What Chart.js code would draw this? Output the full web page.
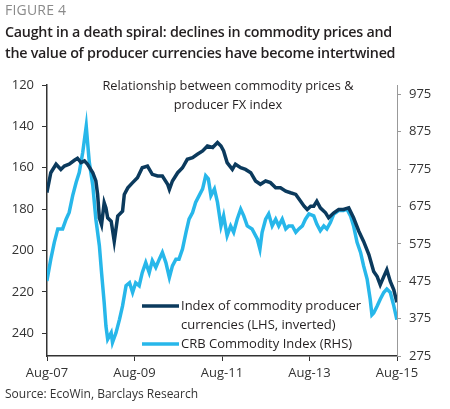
<!DOCTYPE html>
<html>
<head>
<meta charset="utf-8">
<script src="https://cdn.jsdelivr.net/npm/chart.js@4.4.0/dist/chart.umd.min.js"></script>
<style>
  body { margin: 0; background: #fff; font-family: "Open Sans", "Noto Sans", sans-serif; }
  #wrap { position: relative; width: 450px; height: 409px; overflow: hidden; }
  #chart { position: absolute; left: 0; top: 0; }
  .txt { position: absolute; white-space: nowrap; color: #231f20; }
  #fig { left: 5px; top: 0px; font-size: 14px; color: #8a8a8a; letter-spacing: 0.2px; }
  #title { left: 5px; top: 22px; font-size: 14.3px; font-weight: 600; line-height: 20.5px; letter-spacing: -0.25px; }
  #inner { left: 98px; top: 76px; width: 260px; text-align: center; font-size: 12.8px; line-height: 18.5px; }
  #source { left: 5px; top: 385px; font-size: 12px; color: #333; }
</style>
</head>
<body>
<div id="wrap">
  <canvas id="chart" width="450" height="409"></canvas>
  <div class="txt" id="fig">FIGURE 4</div>
  <div class="txt" id="title">Caught in a death spiral: declines in commodity prices and<br>the value of producer currencies have become intertwined</div>
  <div class="txt" id="inner">Relationship between commodity prices &amp;<br>producer FX index</div>
  <div class="txt" id="source">Source: EcoWin, Barclays Research</div>
</div>
<script>
// dates as decimal years
const fxDates = [2007.58, 2007.67, 2007.79, 2007.90, 2007.98, 2008.09, 2008.21, 2008.28, 2008.36, 2008.44,
  2008.51, 2008.63, 2008.70, 2008.74, 2008.78, 2008.83, 2008.89, 2008.93, 2008.97, 2009.05,
  2009.08, 2009.12, 2009.20, 2009.31, 2009.35, 2009.43, 2009.54, 2009.65, 2009.76, 2009.88,
  2009.99, 2010.11, 2010.22, 2010.34, 2010.38, 2010.45, 2010.57, 2010.68, 2010.79, 2010.91,
  2011.02, 2011.14, 2011.25, 2011.37, 2011.48, 2011.56, 2011.62, 2011.70, 2011.82, 2011.89,
  2012.01, 2012.12, 2012.24, 2012.35, 2012.46, 2012.58, 2012.69, 2012.81, 2012.92, 2013.04,
  2013.15, 2013.27, 2013.38, 2013.46, 2013.53, 2013.61, 2013.68, 2013.75, 2013.83, 2013.95,
  2014.02, 2014.14, 2014.25, 2014.36, 2014.48, 2014.59, 2014.71, 2014.82, 2014.94, 2015.05,
  2015.13, 2015.20, 2015.28, 2015.35, 2015.43, 2015.51, 2015.58];
const fxValues = [172, 162.4, 158.3, 160.8, 159.2, 158.3, 156.4, 155.4, 157.5, 156.7,
  158.3, 162.4, 166.4, 172.9, 184.2, 187.5, 176.9, 179.4, 184.2, 185.9,
  190, 195.6, 183.4, 181, 172.9, 169.7, 167.2, 164.8, 160, 159.2,
  163.2, 164, 164, 168, 170.5, 166.4, 162.4, 160, 155.9, 155.1,
  153.5, 151.9, 149.5, 150.2, 147.8, 149.5, 151.9, 157.5, 160.8, 158.3,
  160, 160.8, 162.4, 166.4, 168, 166.4, 167.2, 169.7, 169.7, 171.3,
  172.1, 172.9, 176.2, 178.6, 180.2, 178.6, 178.6, 176.2, 179.4, 181.8,
  184.2, 181.8, 180.2, 180.2, 179.4, 184.2, 190.7, 195.6, 202, 210.1,
  212.6, 216.6, 212.6, 209.3, 215, 219, 225];

const crbDates = [2007.58, 2007.67, 2007.75, 2007.83, 2007.94, 2008.02, 2008.09, 2008.17, 2008.25, 2008.32,
  2008.40, 2008.48, 2008.51, 2008.55, 2008.63, 2008.70, 2008.78, 2008.83, 2008.89, 2008.93,
  2008.97, 2009.05, 2009.08, 2009.16, 2009.24, 2009.31, 2009.39, 2009.47, 2009.54, 2009.61,
  2009.69, 2009.76, 2009.84, 2009.92, 2009.99, 2010.07, 2010.15, 2010.22, 2010.30, 2010.38,
  2010.45, 2010.53, 2010.60, 2010.68, 2010.76, 2010.83, 2010.91, 2010.98, 2011.06, 2011.14,
  2011.21, 2011.27, 2011.33, 2011.41, 2011.48, 2011.56, 2011.62, 2011.70, 2011.78, 2011.85,
  2011.93, 2012.01, 2012.08, 2012.16, 2012.27, 2012.39, 2012.45, 2012.50, 2012.58, 2012.65,
  2012.73, 2012.81, 2012.88, 2012.96, 2013.04, 2013.11, 2013.19, 2013.27, 2013.34, 2013.42,
  2013.49, 2013.57, 2013.68, 2013.75, 2013.83, 2013.91, 2013.98, 2014.06, 2014.14, 2014.25,
  2014.36, 2014.44, 2014.52, 2014.59, 2014.67, 2014.75, 2014.82, 2014.90, 2014.97, 2015.01,
  2015.05, 2015.13, 2015.20, 2015.28, 2015.35, 2015.43, 2015.51, 2015.58];
const crbValues = [476, 534, 579, 615, 615, 641, 659, 704, 740, 766,
  820, 890, 847, 793, 731, 641, 570, 498, 418, 355,
  320, 337, 311, 337, 373, 409, 463, 471, 445, 471,
  463, 498, 525, 498, 530, 512, 534, 552, 525, 485,
  516, 534, 534, 561, 606, 641, 659, 686, 704, 722,
  757, 749, 704, 722, 686, 623, 650, 597, 623, 606,
  641, 668, 650, 623, 615, 588, 561, 606, 641, 655,
  623, 641, 623, 641, 615, 623, 623, 606, 615, 623,
  641, 655, 650, 628, 610, 623, 615, 632, 655, 664,
  664, 668, 650, 623, 579, 552, 516, 481, 427, 385,
  390, 409, 427, 445, 454, 445, 409, 372];

const xTicks = [2007.583, 2009.583, 2011.583, 2013.583, 2015.583];
const xLabels = ['Aug-07', 'Aug-09', 'Aug-11', 'Aug-13', 'Aug-15'];
const leftTicks = [120, 140, 160, 180, 200, 220, 240];
const rightTicks = [275, 375, 475, 575, 675, 775, 875, 975];

const legendLines = [
  ['Index of commodity producer', 'currencies (LHS, inverted)'],
  ['CRB Commodity Index (RHS)']
];

const darkBlue = '#0b3a5d';
const lightBlue = '#27b7ea';

function pts(xs, ys) {
  return xs.map((x, i) => ({ x: x, y: ys[i] }));
}

const boxLegend = {
  id: 'boxLegend',
  afterDatasetsDraw(chart) {
    const c = chart.ctx;
    c.save();
    c.font = '13px "Open Sans", "Noto Sans", sans-serif';
    c.textBaseline = 'middle';
    let y = 306;
    chart.data.datasets.forEach((ds, i) => {
      c.strokeStyle = ds.borderColor;
      c.lineWidth = 3.5;
      c.beginPath();
      c.moveTo(142, y);
      c.lineTo(179, y);
      c.stroke();
      c.fillStyle = '#231f20';
      legendLines[i].forEach((t, j) => c.fillText(t, 181, y + j * 19));
      y += legendLines[i].length * 19;
    });
    c.restore();
  }
};

new Chart(document.getElementById('chart'), {
  type: 'line',
  data: {
    datasets: [{
      label: 'Index of commodity producer currencies (LHS, inverted)',
      data: pts(fxDates, fxValues),
      yAxisID: 'y',
      borderColor: darkBlue,
      borderWidth: 3.5,
      pointRadius: 0,
      tension: 0
    }, {
      label: 'CRB Commodity Index (RHS)',
      data: pts(crbDates, crbValues),
      yAxisID: 'y1',
      borderColor: lightBlue,
      borderWidth: 3.5,
      pointRadius: 0,
      tension: 0
    }]
  },
  options: {
    responsive: false,
    animation: false,
    devicePixelRatio: 1,
    layout: { padding: { top: 85, left: 0, right: 0, bottom: 0 } },
    plugins: {
      legend: { display: false },
      tooltip: { enabled: false }
    },
    scales: {
      x: {
        type: 'linear',
        min: 2007.583,
        max: 2015.583,
        afterBuildTicks: (axis) => { axis.ticks = xTicks.map(v => ({ value: v })); },
        afterFit: (axis) => { axis.height = 53; },
        ticks: {
          callback: (v, i) => xLabels[i],
          color: '#333',
          font: { size: 13, family: '"Open Sans", "Noto Sans", sans-serif' },
          padding: 4,
          maxRotation: 0
        },
        grid: { drawOnChartArea: false, tickLength: 5, color: '#333' },
        border: { color: '#333', width: 1.5 }
      },
      y: {
        position: 'left',
        reverse: true,
        min: 120,
        max: 251,
        afterBuildTicks: (axis) => { axis.ticks = leftTicks.map(v => ({ value: v })); },
        afterFit: (axis) => { axis.width = 47; },
        ticks: {
          color: '#333',
          font: { size: 13, family: '"Open Sans", "Noto Sans", sans-serif' },
          padding: 8
        },
        grid: { drawOnChartArea: false, tickLength: 5, color: '#333' },
        border: { color: '#333', width: 1.5 }
      },
      y1: {
        position: 'right',
        min: 275,
        max: 1000,
        afterBuildTicks: (axis) => { axis.ticks = rightTicks.map(v => ({ value: v })); },
        afterFit: (axis) => { axis.width = 53; },
        ticks: {
          color: '#333',
          font: { size: 13, family: '"Open Sans", "Noto Sans", sans-serif' },
          padding: 8
        },
        grid: { drawOnChartArea: false, tickLength: 4, color: '#999' },
        border: { color: '#999', width: 1 }
      }
    }
  },
  plugins: [boxLegend]
});
</script>
</body>
</html>
